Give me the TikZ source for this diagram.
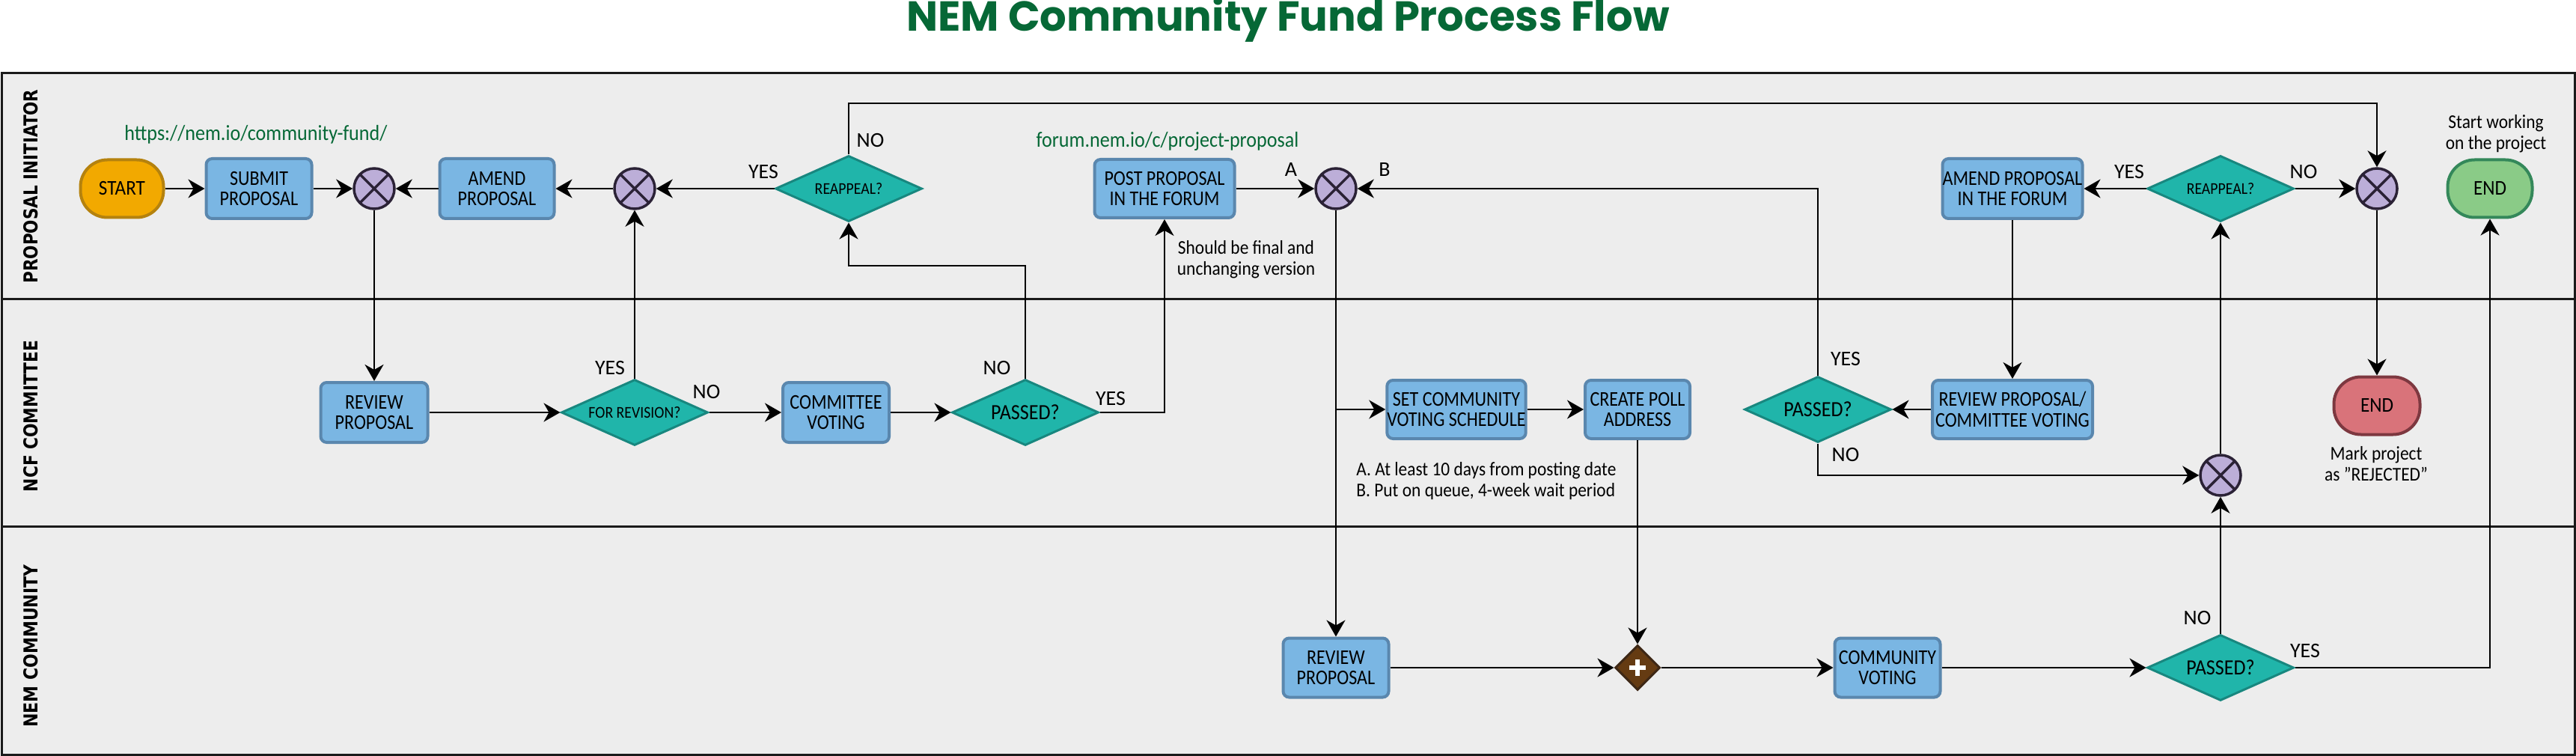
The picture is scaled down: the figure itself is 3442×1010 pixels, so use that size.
\documentclass[tikz,border=0pt]{standalone}
\usepackage{fontspec}
\usepackage{graphicx}
\setmainfont{Carlito}[FakeStretch=0.9]
\newfontfamily\boxfont{Carlito}[FakeStretch=0.86]
\newfontfamily\plainfont{Carlito}
\newfontfamily\titlefont{Poppins}
\newfontfamily\lanefont{DejaVu Sans}
\usetikzlibrary{shapes.geometric,arrows.meta,calc}
\definecolor{lanebg}{HTML}{EDEDED}
\definecolor{framec}{HTML}{1A1A1A}
\definecolor{taskbg}{HTML}{7AB6E3}
\definecolor{taskbd}{HTML}{5A87AE}
\definecolor{decbg}{HTML}{20B5AA}
\definecolor{decbd}{HTML}{18877F}
\definecolor{xbg}{HTML}{BCAED8}
\definecolor{xbd}{HTML}{2B2236}
\definecolor{startbg}{HTML}{F2A900}
\definecolor{startbd}{HTML}{B5820E}
\definecolor{endgbg}{HTML}{8ACB87}
\definecolor{endgbd}{HTML}{34885A}
\definecolor{endrbg}{HTML}{D9737A}
\definecolor{endrbd}{HTML}{7D3840}
\definecolor{pbg}{HTML}{653B12}
\definecolor{pbd}{HTML}{3E2816}
\definecolor{titlegreen}{HTML}{066836}
\begin{document}
\begin{tikzpicture}[x=0.5pt,y=-0.5pt,
  task/.style={draw=taskbd, fill=taskbg, line width=2pt, rounded corners=4pt, align=center, inner sep=0pt, font=\boxfont\fontsize{14}{13.7}\selectfont},
  dec/.style={diamond, draw=decbd, fill=decbg, line width=1.5pt, inner sep=0pt, aspect=2.2, minimum width=98pt, minimum height=44pt},
  bigtxt/.style={font=\fontsize{14.5}{15}\selectfont},
  smalltxt/.style={font=\fontsize{11}{12}\selectfont},
  xgate/.style={circle, draw=xbd, fill=xbg, line width=1.75pt, minimum size=27pt, inner sep=0pt,
    path picture={\draw[xbd, line width=1.75pt] (path picture bounding box.south west) -- (path picture bounding box.north east) (path picture bounding box.north west) -- (path picture bounding box.south east);}},
  plusgate/.style={diamond, draw=pbd, fill=pbg, line width=1.5pt, minimum width=30pt, minimum height=30pt, inner sep=0pt,
    path picture={\draw[white, line width=2.8pt] ([xshift=-5.5pt]path picture bounding box.center) -- ([xshift=5.5pt]path picture bounding box.center) ([yshift=-5.5pt]path picture bounding box.center) -- ([yshift=5.5pt]path picture bounding box.center);}},
  terminal/.style={draw, line width=2pt, rounded corners=18pt, minimum height=38.5pt, inner sep=0pt, font=\fontsize{14}{14}\selectfont},
  conn/.style={line width=1.25pt, -{Stealth[length=11pt,width=12.5pt,inset=3.5pt]}},
  lbl/.style={inner sep=0pt, font=\plainfont\fontsize{14}{14}\selectfont},
  note/.style={inner sep=0pt, align=center, font=\fontsize{13}{14}\selectfont},
  url/.style={inner sep=0pt, text=titlegreen, font=\fontsize{14.5}{15}\selectfont}
]
\useasboundingbox (0,0) rectangle (3442,1010);
\fill[white] (0,0) rectangle (3442,1010);
% lanes
\draw[fill=lanebg, draw=framec, line width=1.5pt] (2,98) rectangle (3440,1008);
\draw[draw=framec, line width=1.5pt] (2,400) -- (3440,400);
\draw[draw=framec, line width=1.5pt] (2,703) -- (3440,703);
% title and lane labels
\node[anchor=base, inner sep=0pt, text=titlegreen, font=\titlefont\bfseries\fontsize{28}{28}\selectfont] (title) at (1721,42) {NEM Community Fund Process Flow};
\node[rotate=90, inner sep=0pt] (lane1) at (41,249) {\resizebox{129.5pt}{9.5pt}{\lanefont\bfseries PROPOSAL INITIATOR}};
\node[rotate=90, inner sep=0pt] (lane2) at (41,556) {\resizebox{101pt}{9.5pt}{\lanefont\bfseries NCF COMMITTEE}};
\node[rotate=90, inner sep=0pt] (lane3) at (41,863) {\resizebox{108.5pt}{9.5pt}{\lanefont\bfseries NEM COMMUNITY}};
\coordinate (topline) at (0,138);
\coordinate (noline) at (0,355);
% lane 1
\node[terminal, fill=startbg, draw=startbd, minimum width=55.5pt] (start) at (163,252) {START};
\node[task, minimum width=70.5pt, minimum height=40pt] (submit) at (346,252) {SUBMIT\\PROPOSAL};
\node[xgate] (x1) at (500,252) {};
\node[task, minimum width=76.5pt, minimum height=40pt] (amend) at (664,252) {AMEND\\PROPOSAL};
\node[xgate] (x2) at (848,252) {};
\node[dec, smalltxt] (ra1) at (1134,252) {REAPPEAL?};
\node[task, minimum width=93.5pt, minimum height=39pt] (post) at (1556,252) {POST PROPOSAL\\IN THE FORUM};
\node[xgate] (x3) at (1785,252) {};
\node[task, minimum width=93.5pt, minimum height=40pt] (amend2) at (2689,252) {AMEND PROPOSAL\\IN THE FORUM};
\node[dec, smalltxt] (ra2) at (2967,252) {REAPPEAL?};
\node[xgate] (x4) at (3176,252) {};
\node[terminal, fill=endgbg, draw=endgbd, minimum width=56.5pt] (endg) at (3327,252) {END};
% lane 2
\node[task, minimum width=71.5pt, minimum height=40pt] (rev1) at (500,551) {REVIEW\\PROPOSAL};
\node[dec, smalltxt] (frev) at (848,551) {FOR REVISION?};
\node[task, minimum width=71pt, minimum height=40pt] (cvote) at (1117,551) {COMMITTEE\\VOTING};
\node[dec, bigtxt] (pa1) at (1370,551) {PASSED?};
\node[task, minimum width=92.5pt, minimum height=39pt] (set) at (1946,547) {SET COMMUNITY\\VOTING SCHEDULE};
\node[task, minimum width=70pt, minimum height=39pt] (poll) at (2188,547) {CREATE POLL\\ADDRESS};
\node[dec, bigtxt] (pa2) at (2429,547) {PASSED?};
\node[task, minimum width=107pt, minimum height=39pt] (rev2) at (2689,547) {REVIEW PROPOSAL/\\COMMITTEE VOTING};
\node[xgate] (x5) at (2967,635) {};
\node[terminal, fill=endrbg, draw=endrbd, minimum width=57.5pt] (endr) at (3176,542) {END};
% lane 3
\node[task, minimum width=70.5pt, minimum height=39.5pt] (rev3) at (1785,892) {REVIEW\\PROPOSAL};
\node[plusgate] (plus) at (2188,892) {};
\node[task, minimum width=70.5pt, minimum height=39.5pt] (cvote2) at (2522,892) {COMMUNITY\\VOTING};
\node[dec, bigtxt] (pa3) at (2967,892) {PASSED?};
% texts
\node[url, anchor=base] (url1) at (342,188) {https://nem.io/community-fund/};
\node[url, anchor=base] (url2) at (1560,197) {forum.nem.io/c/project-proposal};
\node[note] (n1) at (1665,347) {Should be final and\\unchanging version};
\node[note, align=left, anchor=west] (n2) at (1812,643) {A. At least 10 days from posting date\\B. Put on queue, 4-week wait period};
\node[note] (n3) at (3335,179) {Start working\\on the project};
\node[note] (n4) at (3175,620) {Mark project\\as {\char34}REJECTED{\char34}};
\node[lbl] (l1) at (1020,230) {YES};
\node[lbl] (l2) at (1163,188) {NO};
\node[lbl] (l3) at (815,492) {YES};
\node[lbl] (l4) at (944,524) {NO};
\node[lbl] (l5) at (1332,492) {NO};
\node[lbl] (l6) at (1484,533) {YES};
\node[lbl] (l7) at (1725,227) {A};
\node[lbl] (l8) at (1850,227) {B};
\node[lbl] (l9) at (2466,480) {YES};
\node[lbl] (l10) at (2466,608) {NO};
\node[lbl] (l11) at (2845,230) {YES};
\node[lbl] (l12) at (3078,230) {NO};
\node[lbl] (l13) at (2936,826) {NO};
\node[lbl] (l14) at (3080,870) {YES};
% connectors
\draw[conn] (start) -- (submit);
\draw[conn] (submit) -- (x1);
\draw[conn] (amend) -- (x1);
\draw[conn] (x2) -- (amend);
\draw[conn] (ra1) -- (x2);
\draw[conn] (ra1.north) -- (ra1.north |- topline) -| (x4.north);
\draw[conn] (x1) -- (rev1);
\draw[conn] (rev1) -- (frev);
\draw[conn] (frev.north) -- (x2.south);
\draw[conn] (frev) -- (cvote);
\draw[conn] (cvote) -- (pa1);
\draw[conn] (pa1.north) -- (pa1.north |- noline) -| (ra1.south);
\draw[conn] (pa1.east) -| (post.south);
\draw[conn] (post) -- (x3);
\draw[conn] (pa2.north) |- (x3.east);
\draw[conn] (x3.south) -- (rev3.north);
\draw[conn] (x3.south |- set.west) -- (set.west);
\draw[conn] (set) -- (poll);
\draw[conn] (poll.south) -- (plus.north);
\draw[conn] (rev3) -- (plus);
\draw[conn] (plus) -- (cvote2);
\draw[conn] (cvote2) -- (pa3);
\draw[conn] (pa3.north) -- (x5.south);
\draw[conn] (pa3.east) -| (endg.south);
\draw[conn] (pa2.south) |- (x5.west);
\draw[conn] (x5.north) -- (ra2.south);
\draw[conn] (ra2) -- (amend2);
\draw[conn] (ra2) -- (x4);
\draw[conn] (amend2) -- (rev2);
\draw[conn] (rev2) -- (pa2);
\draw[conn] (x4) -- (endr);
\end{tikzpicture}
\end{document}
